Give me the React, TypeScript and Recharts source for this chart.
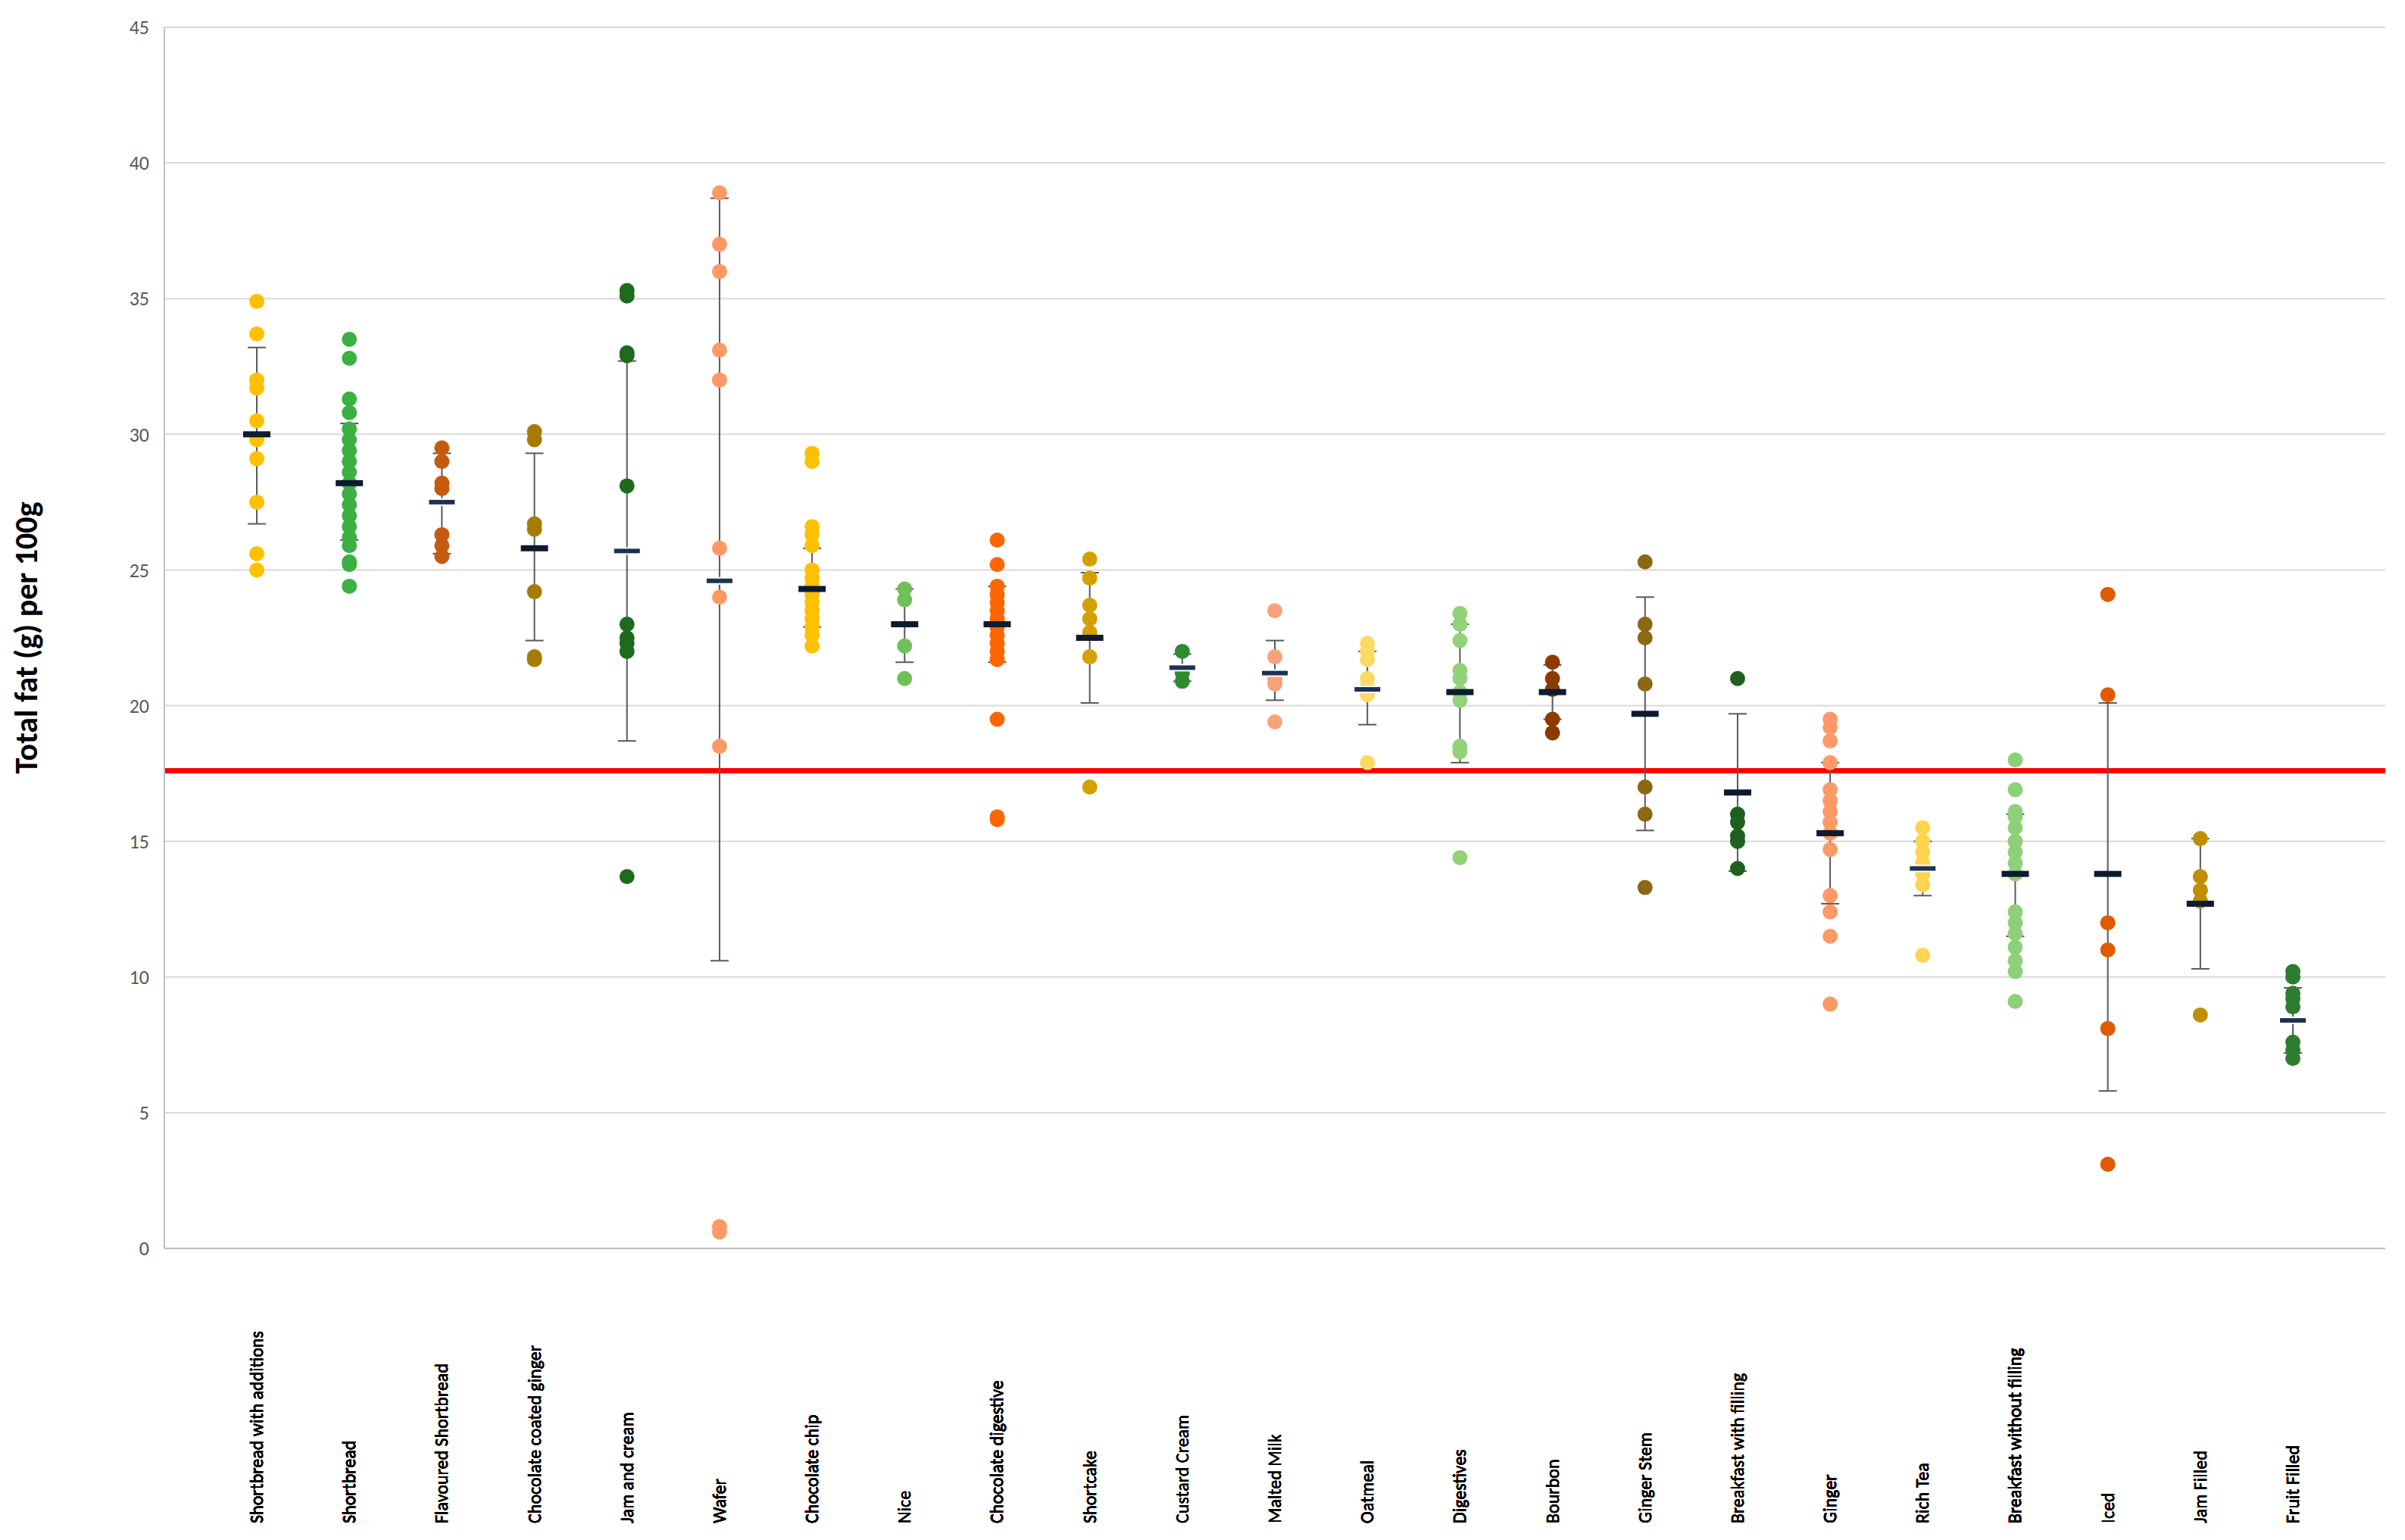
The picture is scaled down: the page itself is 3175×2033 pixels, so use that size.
import { ComposedChart, Scatter, XAxis, YAxis, CartesianGrid, ReferenceLine, ErrorBar } from 'recharts'

const categories = [
  'Shortbread with additions', 'Shortbread', 'Flavoured Shortbread', 'Chocolate coated ginger',
  'Jam and cream', 'Wafer', 'Chocolate chip', 'Nice', 'Chocolate digestive', 'Shortcake',
  'Custard Cream', 'Malted Milk', 'Oatmeal', 'Digestives', 'Bourbon', 'Ginger Stem',
  'Breakfast with filling', 'Ginger', 'Rich Tea', 'Breakfast without filling', 'Iced',
  'Jam Filled', 'Fruit Filled',
]

const samples: number[][] = [
  [34.9, 33.7, 32, 31.7, 30.5, 29.8, 29.1, 27.5, 25.6, 25.0],
  [33.5, 32.8, 31.3, 30.8, 30.2, 29.8, 29.4, 29, 28.6, 28.2, 27.8, 27.4, 27, 26.6, 26.2, 25.9, 25.3, 25.2, 24.4],
  [29.5, 29, 28.2, 28, 26.3, 25.9, 25.5],
  [30.1, 29.8, 26.7, 26.5, 24.2, 21.8, 21.7],
  [35.3, 35.1, 33, 32.9, 28.1, 23, 22.5, 22.3, 22, 13.7],
  [38.9, 37, 36, 33.1, 32, 25.8, 24, 18.5, 0.8, 0.6],
  [29.3, 29, 26.6, 26.3, 25.9, 25, 24.7, 24.4, 24.1, 23.8, 23.5, 23.2, 22.9, 22.6, 22.2],
  [24.3, 23.9, 22.2, 21],
  [26.1, 25.2, 24.4, 24.1, 23.8, 23.5, 23.2, 22.9, 22.6, 22.3, 22, 21.7, 19.5, 15.9, 15.8],
  [25.4, 24.7, 23.7, 23.2, 22.7, 21.8, 17],
  [22, 21.2, 20.9],
  [23.5, 21.8, 21, 20.8, 19.4],
  [22.3, 22, 21.7, 21, 20.7, 20.4, 17.9],
  [23.4, 23, 22.4, 21.3, 21, 20.5, 20.2, 18.5, 18.3, 14.4],
  [21.6, 21, 20.6, 19.5, 19],
  [25.3, 23, 22.5, 20.8, 17, 16, 13.3],
  [21, 16, 15.7, 15.2, 15, 14],
  [19.5, 19.2, 18.7, 17.9, 16.9, 16.5, 16.1, 15.7, 15.3, 14.7, 13, 12.4, 11.5, 9],
  [15.5, 15, 14.6, 14.2, 13.8, 13.4, 10.8],
  [18, 16.9, 16.1, 15.9, 15.5, 15, 14.6, 14.2, 13.8, 12.4, 12, 11.6, 11.1, 10.6, 10.2, 9.1],
  [24.1, 20.4, 12, 11, 8.1, 3.1],
  [15.1, 13.7, 13.2, 12.8, 8.6],
  [10.2, 10, 9.4, 9.2, 8.9, 7.6, 7.3, 7],
]

const means = [30, 28.2, 27.5, 25.8, 25.7, 24.6, 24.3, 23, 23, 22.5, 21.4, 21.2, 20.6, 20.5, 20.5, 19.7, 16.8, 15.3, 14, 13.8, 13.8, 12.7, 8.4]
const lows = [26.7, 26.1, 25.6, 22.4, 18.7, 10.6, 22.9, 21.6, 21.6, 20.1, 20.9, 20.2, 19.3, 17.9, 19.5, 15.4, 13.9, 12.7, 13, 11.5, 5.8, 10.3, 7.2]
const highs = [33.2, 30.4, 29.3, 29.3, 32.7, 38.7, 25.8, 24.3, 24.4, 24.9, 21.9, 22.4, 22, 23, 21.5, 24, 19.7, 17.9, 15, 16, 20.1, 15.1, 9.6]
const reference = 17.6

const COLORS = [
  '#FFC000', '#3CB043', '#C55A11', '#A67C00', '#1E6B1E', '#FF9966', '#FFC000', '#70C05A',
  '#FF6600', '#D4A000', '#2E8B2E', '#F8A27A', '#FFD966', '#92D37A', '#8B3A00', '#8B6914',
  '#1F5F1F', '#FF9966', '#FFD54F', '#8ED07A', '#E05A00', '#BF8F00', '#2E7D2E',
]
const MEAN_DARK = [1, 1, 0, 1, 0, 0, 1, 1, 1, 1, 0, 0, 0, 1, 1, 1, 1, 1, 0, 1, 1, 1, 0]

const meanData = categories.map((c, i) => ({
  cat: c, fat: means[i], err: [means[i] - lows[i], highs[i] - means[i]], dark: MEAN_DARK[i],
}))
const pointData = categories.flatMap((c, i) => samples[i].map((v) => ({ cat: c, fat: v, color: COLORS[i] })))

const font = 'Calibri, "Liberation Sans", Arial, sans-serif'

const Dot = (p: any) => <circle cx={p.cx} cy={p.cy} r={10} fill={p.payload.color} />
const Dash = (p: any) => (
  <rect x={p.cx - 18} y={p.cy - 4} width={36} height={8}
    fill={p.payload.dark ? '#0d1b2e' : '#1c3350'} stroke={p.payload.dark ? 'none' : '#ffffff'} strokeWidth={2} />
)

export default function App() {
  return (
    <ComposedChart width={3159} height={2017} data={meanData}
      margin={{ top: 28, right: 18, left: 0, bottom: 7 }} style={{ fontFamily: font }}>
      <CartesianGrid vertical={false} stroke="#d9d9d9" strokeWidth={2} />
      <XAxis dataKey="cat" type="category" scale="point" allowDuplicatedCategory={false} height={370}
        padding={{ left: 122, right: 122 }} interval={0} tickLine={false}
        axisLine={{ stroke: '#bfbfbf', strokeWidth: 2 }}
        tick={({ x, y, payload }: any) => (
          <text x={x} y={y + 355} transform={`rotate(-90 ${x} ${y + 355})`} dy={8}
            textAnchor="start" fontSize={24} fill="#000" fontFamily={font}>
            {payload.value}
          </text>
        )}
      />
      <YAxis type="number" domain={[0, 45]} ticks={[0, 5, 10, 15, 20, 25, 30, 35, 40, 45]} width={209}
        tickLine={false} axisLine={{ stroke: '#bfbfbf', strokeWidth: 2 }}
        tick={{ fontSize: 26, fill: '#595959' }} tickMargin={14}
        label={{ value: 'Total fat (g) per 100g', angle: -90, position: 'insideLeft', offset: 26,
          style: { fontSize: 42, fontWeight: 'bold', fill: '#000', textAnchor: 'middle' } }}
      />
      <Scatter data={pointData} dataKey="fat" shape={<Dot />} isAnimationActive={false} />
      <ReferenceLine y={reference} stroke="#ff0000" strokeWidth={7} />
      <Scatter dataKey="fat" shape={<Dash />} isAnimationActive={false}>
        <ErrorBar dataKey="err" direction="y" width={12} stroke="#595959" strokeWidth={2} />
      </Scatter>
    </ComposedChart>
  )
}
